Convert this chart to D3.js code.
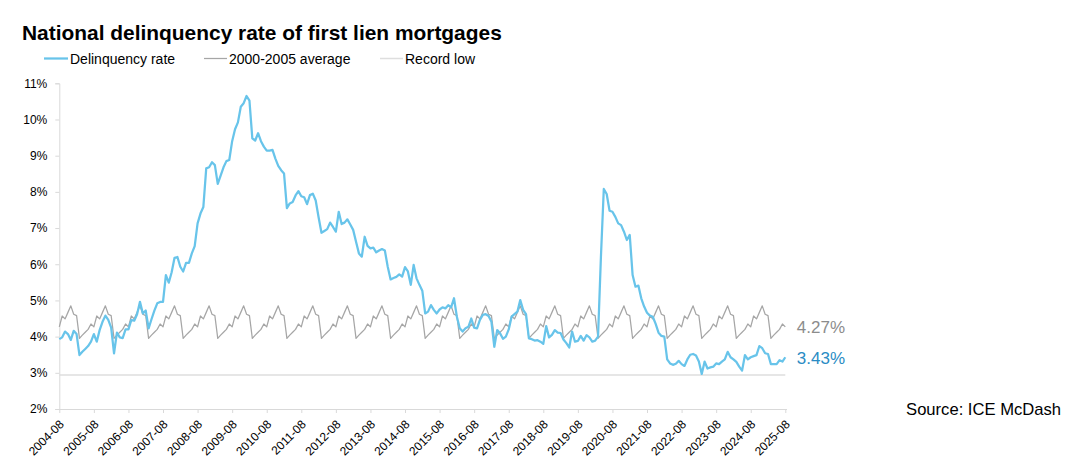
<!DOCTYPE html>
<html>
<head>
<meta charset="utf-8">
<script src="https://cdn.jsdelivr.net/npm/d3@7"></script>
<style>
  html, body { margin: 0; padding: 0; background: #fff; }
  svg { display: block; font-family: "Liberation Sans", Arial, sans-serif; }
</style>
</head>
<body>
<svg id="chart" width="1074" height="473"></svg>
<script>
// ---------------- DATA ----------------
const title = "National delinquency rate of first lien mortgages";
const seriesNames = ["Delinquency rate", "2000-2005 average", "Record low"];
const startYear = 2004, startMonth = 8, monthCount = 253; // 2004-08 .. 2025-08

// Monthly delinquency rate (%), 2004-08 .. 2025-08
const delinquency = [
  3.93,3.98,4.14,4.07,3.91,4.16,4.07,3.49,3.58,3.66,3.74,3.86,
  4.07,3.86,4.18,4.41,4.58,4.46,4.25,3.54,4.11,3.98,3.96,4.20,
  4.20,4.46,4.44,4.62,4.96,4.64,4.72,4.23,4.48,4.72,4.92,4.96,
  4.96,5.70,5.49,5.78,6.18,6.20,5.93,5.80,6.04,6.04,6.30,6.50,
  7.13,7.40,7.58,8.65,8.68,8.82,8.74,8.22,8.45,8.68,8.85,8.88,
  9.40,9.73,9.92,10.35,10.45,10.65,10.52,9.48,9.42,9.62,9.40,9.25,
  9.14,9.14,9.16,8.92,8.72,8.60,8.51,7.55,7.68,7.72,7.90,8.02,
  7.88,7.85,7.66,7.91,7.95,7.76,7.30,6.87,6.92,6.97,7.15,7.03,
  6.90,7.45,7.11,7.15,7.24,7.10,6.95,6.62,6.30,6.21,6.76,6.51,
  6.44,6.46,6.33,6.38,6.42,6.38,5.93,5.58,5.62,5.65,5.72,5.66,
  5.92,5.80,5.43,5.98,5.61,5.43,5.27,4.64,4.69,4.87,4.74,4.64,
  4.75,4.81,4.78,4.87,4.81,5.06,4.55,4.23,4.14,4.23,4.27,4.50,
  4.25,4.23,4.46,4.60,4.62,4.57,4.41,3.72,4.18,4.09,3.94,4.00,
  4.20,4.55,4.62,4.69,5.01,4.74,4.62,3.95,3.93,3.89,3.90,3.86,
  3.80,4.29,3.98,4.05,4.18,4.11,4.10,3.92,3.82,3.70,4.14,3.86,
  3.88,4.02,3.89,4.04,3.98,3.86,3.89,4.00,6.20,8.08,7.94,7.48,
  7.45,7.31,7.13,7.08,6.90,6.67,6.81,5.70,5.38,5.41,5.06,4.83,
  4.66,4.58,4.55,4.35,4.11,4.02,4.00,3.37,3.26,3.22,3.25,3.33,
  3.24,3.19,3.37,3.50,3.52,3.48,3.31,2.97,3.31,3.12,3.15,3.17,
  3.26,3.24,3.31,3.37,3.58,3.43,3.37,3.30,3.17,3.06,3.49,3.37,
  3.43,3.46,3.49,3.74,3.68,3.54,3.52,3.24,3.24,3.24,3.35,3.31,
  3.43
];

// 2000-2005 average by calendar month (Jan..Dec), %
const averageByMonth = [4.62,4.58,3.95,4.04,4.12,4.20,4.35,4.27,4.57,4.49,4.67,4.85];

// Record low (%)
const recordLow = 2.94;

// Axis ticks
const xTickLabels = ["2004-08","2005-08","2006-08","2007-08","2008-08","2009-08","2010-08",
  "2011-08","2012-08","2013-08","2014-08","2015-08","2016-08","2017-08","2018-08",
  "2019-08","2020-08","2021-08","2022-08","2023-08","2024-08","2025-08"];
const yTicks = [2,3,4,5,6,7,8,9,10,11];
const lastLabels = ["4.27%", "3.43%"];
const sourceText = "Source: ICE McDash";

// ---------------- BUILD ----------------
const months = d3.range(monthCount).map(i => {
  const t = (startMonth - 1) + i;
  const yr = startYear + Math.floor(t / 12);
  const m = (t % 12) + 1;
  return { label: yr + "-" + String(m).padStart(2, "0"), month: m };
});
const categories = months.map(d => d.label);
const avgSeries = months.map(d => averageByMonth[d.month - 1]);

const svg = d3.select("#chart");
svg.append("rect").attr("width", 1074).attr("height", 473).attr("fill", "#fff");

const x = d3.scalePoint().domain(categories).range([59.3, 785.3]);
const y = d3.scaleLinear().domain([2, 11]).range([409, 83.3]);

const blue = "#68c4ea", gray = "#a6a6a6", light = "#dedede", axisCol = "#d9d9d9";

// Title
const tt = svg.append("text").attr("x", 22).attr("y", 39.5)
  .attr("font-weight", "bold").attr("font-size", 22).attr("fill", "#000").text(title);
const tw = tt.node().getComputedTextLength();
tt.attr("font-size", 22 * 480 / tw);

// Legend
const legend = [
  { name: seriesNames[0], color: blue, w: 2.25, x0: 44, x1: 68, tx: 70 },
  { name: seriesNames[1], color: gray, w: 1.25, x0: 204, x1: 227, tx: 229 },
  { name: seriesNames[2], color: light, w: 1.5, x0: 380, x1: 403, tx: 405 }
];
legend.forEach(l => {
  svg.append("line").attr("x1", l.x0).attr("x2", l.x1).attr("y1", 58.5).attr("y2", 58.5)
    .attr("stroke", l.color).attr("stroke-width", l.w);
  svg.append("text").attr("x", l.tx).attr("y", 63.5).attr("font-size", 14)
    .attr("fill", "#000").text(l.name);
});

// Axes
const yAxis = d3.axisLeft(y).tickValues(yTicks).tickSize(4).tickPadding(8)
  .tickFormat(d => d + "%");
const gy = svg.append("g").attr("transform", "translate(59.3,0)").call(yAxis);
gy.select(".domain").attr("stroke", axisCol);
gy.selectAll(".tick line").attr("stroke", axisCol);
gy.selectAll(".tick text").attr("font-size", 12).attr("fill", "#000")
  .attr("font-family", "Liberation Sans, Arial, sans-serif");

const xAxis = d3.axisBottom(x).tickValues(xTickLabels).tickSize(4).tickSizeOuter(0);
const gx = svg.append("g").attr("transform", "translate(0,409)").call(xAxis);
gx.select(".domain").attr("stroke", axisCol).attr("d", "M59.3,0.5H787");
gx.selectAll(".tick line").attr("stroke", axisCol);
gx.selectAll(".tick text").attr("font-size", 12).attr("fill", "#000")
  .attr("font-family", "Liberation Sans, Arial, sans-serif")
  .attr("text-anchor", "end")
  .attr("dy", null).attr("y", null)
  .attr("transform", "translate(5,16) rotate(-45)");

// Lines
const lineGen = d3.line().x((d, i) => x(categories[i])).y(d => y(d));

svg.append("path").datum(avgSeries).attr("d", lineGen)
  .attr("fill", "none").attr("stroke", gray).attr("stroke-width", 1.25)
  .attr("stroke-linejoin", "round");

svg.append("line")
  .attr("x1", x(categories[0])).attr("x2", x(categories[monthCount - 1]))
  .attr("y1", y(recordLow)).attr("y2", y(recordLow))
  .attr("stroke", light).attr("stroke-width", 1.5);

svg.append("path").datum(delinquency).attr("d", lineGen)
  .attr("fill", "none").attr("stroke", blue).attr("stroke-width", 2.25)
  .attr("stroke-linejoin", "round");

// End labels
const lastX = x(categories[monthCount - 1]);
svg.append("text").attr("x", lastX + 11.5).attr("y", y(avgSeries[monthCount - 1]) + 6.5)
  .attr("font-size", 17).attr("fill", "#8c8c8c").text(lastLabels[0]);
svg.append("text").attr("x", lastX + 11.5).attr("y", y(delinquency[monthCount - 1]) + 6.5)
  .attr("font-size", 17).attr("fill", "#2a8cc4").text(lastLabels[1]);

// Source
svg.append("text").attr("x", 1061).attr("y", 415).attr("text-anchor", "end")
  .attr("font-size", 16.6).attr("fill", "#000").text(sourceText);
</script>
</body>
</html>
